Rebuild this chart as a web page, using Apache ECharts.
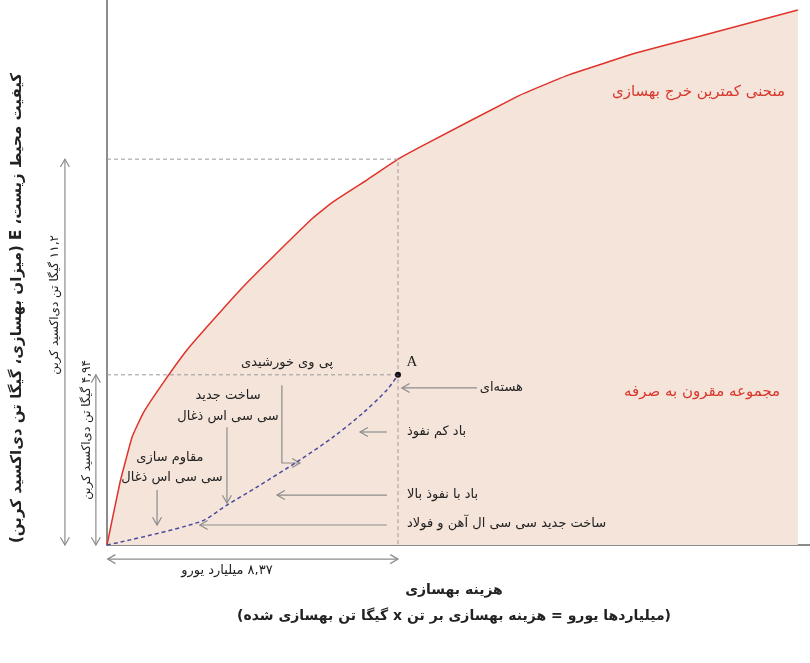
<!DOCTYPE html>
<html><head><meta charset="utf-8">
<script src="https://cdn.jsdelivr.net/npm/echarts@6/dist/echarts.min.js"></script>
<style>html,body{margin:0;padding:0;background:#fff}#c{width:810px;height:663px;direction:rtl}</style>
</head><body><div id="c"></div>
<script>
// Minimum cost curve (x: cost in billion euro, y: abatement Gt CO2)
const minCostX = [0, 0.37, 0.72, 1.04, 1.61, 2.30, 3.05, 3.91, 4.77, 5.92, 6.50, 7.48, 8.37, 9.00, 11.82, 13.26, 15.21, 17.05, 19.87];
const minCostY = [0, 1.80, 3.13, 3.83, 4.70, 5.66, 6.53, 7.49, 8.36, 9.49, 9.96, 10.60, 11.20, 11.55, 13.03, 13.64, 14.28, 14.77, 15.53];
// Technology path to point A
const pathX = [0, 2.67, 3.45, 4.31, 5.55, 6.50, 7.36, 8.05, 8.37];
const pathY = [0, 0.67, 1.16, 1.68, 2.47, 3.13, 3.83, 4.50, 4.94];
const pointA = [8.37, 4.94];
const maxAbatement = 11.2;
const xMax = 20.22, yMax = 15.82;

// Annotation arrows (data coordinates), last point carries the head
const arrowLines = [
  [[10.64, 4.56], [8.48, 4.56]],
  [[8.05, 3.28], [7.28, 3.28]],
  [[8.05, 1.45], [4.89, 1.45]],
  [[8.05, 0.58], [2.67, 0.58]],
  [[5.03, 4.64], [5.03, 2.38], [5.55, 2.38]],
  [[3.45, 3.42], [3.45, 1.22]],
  [[1.44, 1.60], [1.44, 0.58]]
];
const dimArrows = [
  [[-1.21, 0], [-1.21, maxAbatement]],
  [[-0.32, 0], [-0.32, pointA[1]]],
  [[0.02, -0.41], [pointA[0], -0.41]]
];
const noteTexts = ['هسته\u200cای', 'باد کم نفوذ', 'باد با نفوذ بالا', 'ساخت جدید سی سی ال آهن و فولاد', 'پی وی خورشیدی', 'ساخت جدید', 'سی سی اس ذغال', 'مقاوم سازی', 'سی سی اس ذغال', 'A'];
const notePos = [[10.72, 4.56], [8.63, 3.28], [8.63, 1.45], [8.63, 0.61], [5.18, 5.28], [3.48, 4.35], [3.48, 3.72], [1.81, 2.55], [1.87, 1.97], [8.77, 5.31]];
const noteAlign = ['left', 'left', 'left', 'left', 'center', 'center', 'center', 'center', 'center', 'center'];
const redTexts = ['منحنی کمترین خرج بهسازی', 'مجموعه مقرون به صرفه'];
const redPos = [[19.5, 13.15], [19.36, 4.44]];
const dimTexts = ['۸,۳۷ میلیارد یورو', '۱۱,۲ گیگا تن دی\u200cاکسید کربن', '۴,۹۴ گیگا تن دی\u200cاکسید کربن'];
const dimPos = [[3.45, -0.74], [-1.50, 6.97], [-0.58, 3.34]];
const dimRot = [0, 90, 90];
const xTitle1 = 'هزینه بهسازی';
const xTitle2 = '(میلیاردها یورو = هزینه بهسازی بر تن x گیگا تن بهسازی شده)';
const yTitle = 'کیفیت محیط زیست، E (میزان بهسازی، گیگا تن دی\u200cاکسید کربن)';

const FONT = '"DejaVu Sans", sans-serif';
const GRAY = '#8c8c8c';

function head(p, q, len) {
  const dx = q[0] - p[0], dy = q[1] - p[1];
  const d = Math.hypot(dx, dy) || 1;
  const ux = dx / d, uy = dy / d, a = Math.PI / 6;
  const c = Math.cos(a), s = Math.sin(a);
  const b1 = [q[0] - len * (ux * c - uy * s), q[1] - len * (uy * c + ux * s)];
  const b2 = [q[0] - len * (ux * c + uy * s), q[1] - len * (uy * c - ux * s)];
  return {type: 'polyline', shape: {points: [b1, q, b2]}, style: {stroke: GRAY, lineWidth: 1.2, fill: null}};
}

function renderItem(params, api) {
  const C = p => api.coord(p);
  const ch = [];
  ch.push({type: 'polyline', shape: {points: [C([0, maxAbatement]), C([pointA[0], maxAbatement]), C([pointA[0], 0])]},
    style: {stroke: '#9a9a9a', lineWidth: 1, lineDash: [4, 3], fill: null}});
  ch.push({type: 'polyline', shape: {points: [C([0, pointA[1]]), C(pointA)]},
    style: {stroke: '#9a9a9a', lineWidth: 1, lineDash: [4, 3], fill: null}});
  arrowLines.forEach(l => {
    const pts = l.map(C);
    ch.push({type: 'polyline', shape: {points: pts}, style: {stroke: GRAY, lineWidth: 1.2, fill: null}});
    ch.push(head(pts[pts.length - 2], pts[pts.length - 1], 9));
  });
  dimArrows.forEach(l => {
    const pts = l.map(C);
    ch.push({type: 'polyline', shape: {points: pts}, style: {stroke: GRAY, lineWidth: 1.2, fill: null}});
    ch.push(head(pts[0], pts[1], 9));
    ch.push(head(pts[1], pts[0], 9));
  });
  noteTexts.forEach((t, i) => {
    const p = C(notePos[i]);
    ch.push({type: 'text', x: p[0], y: p[1], style: {text: t, fill: '#222',
      font: (t === 'A' ? '15px "Liberation Serif", serif' : '13px ' + FONT), align: noteAlign[i], verticalAlign: 'middle'}});
  });
  redTexts.forEach((t, i) => {
    const p = C(redPos[i]);
    ch.push({type: 'text', x: p[0], y: p[1], style: {text: t, fill: '#d8372c', font: '15px ' + FONT, align: 'right', verticalAlign: 'middle'}});
  });
  dimTexts.forEach((t, i) => {
    const p = C(dimPos[i]);
    ch.push({type: 'text', x: p[0], y: p[1], rotation: dimRot[i] * Math.PI / 180,
      style: {text: t, fill: '#222', font: (i === 0 ? '13px ' : '12px ') + FONT, align: 'center', verticalAlign: 'middle'}});
  });
  const a = C(pointA);
  ch.push({type: 'circle', shape: {cx: a[0], cy: a[1], r: 3}, style: {fill: '#111'}});
  return {type: 'group', children: ch};
}

const chart = echarts.init(document.getElementById('c'));
chart.setOption({
  animation: false,
  grid: {left: 107, right: 0, top: 0, bottom: 118},
  xAxis: {type: 'value', min: 0, max: xMax, splitLine: {show: false}, axisTick: {show: false}, axisLabel: {show: false},
    axisLine: {lineStyle: {color: '#666', width: 1.5}}},
  yAxis: {type: 'value', min: 0, max: yMax, splitLine: {show: false}, axisTick: {show: false}, axisLabel: {show: false},
    axisLine: {show: true, lineStyle: {color: '#666', width: 1.5}}},
  graphic: [
    {type: 'text', x: 454, y: 590, style: {text: xTitle1, font: 'bold 14px ' + FONT, fill: '#222', align: 'center', verticalAlign: 'middle'}},
    {type: 'text', x: 454, y: 616, style: {text: xTitle2, font: 'bold 14px ' + FONT, fill: '#222', align: 'center', verticalAlign: 'middle'}},
    {type: 'text', x: 17, y: 308, rotation: Math.PI / 2, style: {text: yTitle, font: 'bold 15px ' + FONT, fill: '#222', align: 'center', verticalAlign: 'middle'}}
  ],
  series: [
    {type: 'line', data: minCostX.map((x, i) => [x, minCostY[i]]), symbol: 'none', smooth: 0.1, z: 1,
      lineStyle: {color: '#e0332b', width: 1.5}, areaStyle: {color: '#f5e4da', opacity: 1}},
    {type: 'custom', data: [[0, 0]], renderItem: renderItem, z: 3, silent: true},
    {type: 'line', data: pathX.map((x, i) => [x, pathY[i]]), symbol: 'none', smooth: 0.3, z: 4,
      lineStyle: {color: '#4b4b9e', width: 1.5, type: [4, 3]}}
  ]
});
</script></body></html>
